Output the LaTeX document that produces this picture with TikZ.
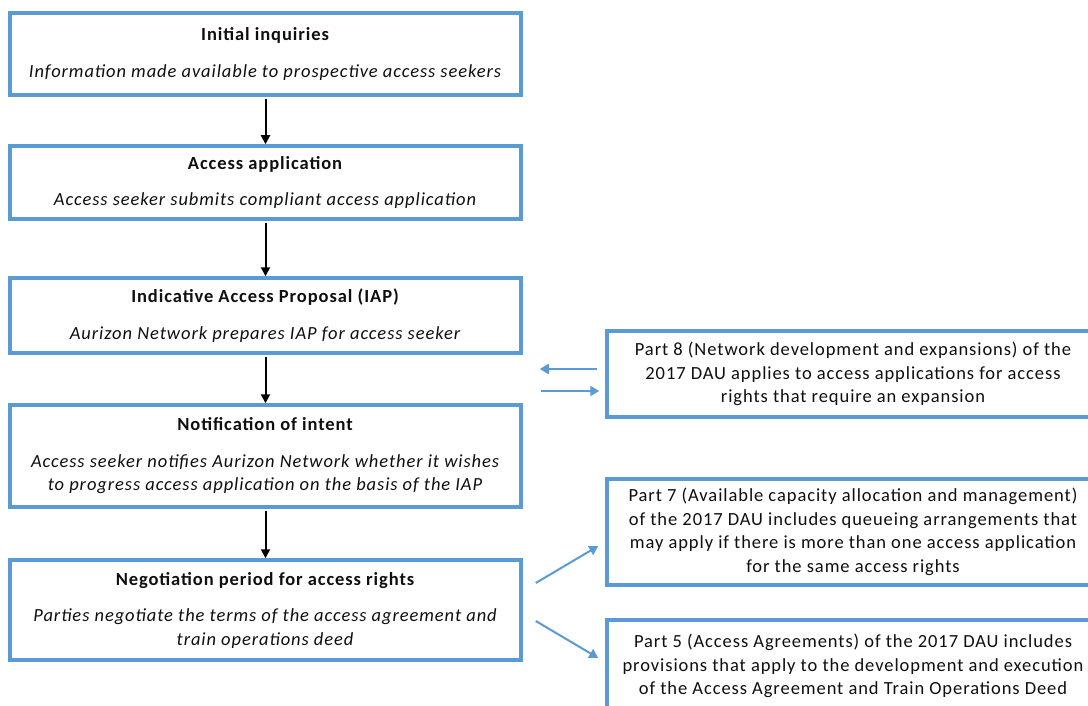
\documentclass[tikz,border=0pt]{standalone}
\usepackage{fontspec}
\setmainfont{Carlito}[LetterSpace=5]
\usepackage{xcolor}
\usepackage{tikz}
\usetikzlibrary{arrows.meta, positioning, calc}
\definecolor{boxblue}{RGB}{91, 155, 213}
\definecolor{inktext}{RGB}{15, 15, 15}
\tikzstyle{stage} = [rectangle, draw=boxblue, fill=white, line width=3.5pt, minimum width=511pt, align=center, inner sep=0pt, text=inktext, font=\fontsize{18.5}{23.5}\selectfont]
\tikzstyle{part} = [stage, minimum width=492pt]
\tikzstyle{arrow} = [-{Triangle[length=9pt, width=9pt]}, line width=2pt, black]
\tikzstyle{bluearrow} = [-{Triangle[length=9pt, width=10pt]}, line width=2pt, boxblue]

\begin{document}
\begin{tikzpicture}[x=1pt, y=-1pt]
    \useasboundingbox (0,0) rectangle (1088,706);
    \clip (0,0) rectangle (1088,706);

    % Process stages
    \node[stage, minimum height=82pt] (init) at (265.5,54) {\textbf{Initial inquiries}\\[13pt]\textit{Information made available to prospective access seekers}};
    \node[stage, minimum height=73pt] (app) at (265.5,182.5) {\textbf{Access application}\\[13pt]\textit{Access seeker submits compliant access application}};
    \node[stage, minimum height=75pt] (iap) at (265.5,315.5) {\textbf{Indicative Access Proposal\ (IAP)}\\[13pt]\textit{Aurizon Network prepares IAP for access seeker}};
    \node[stage, minimum height=102pt] (notif) at (265.5,456) {\textbf{Notification of intent}\\[13pt]\textit{Access seeker notifies Aurizon Network whether it wishes}\\\textit{to progress access application on the basis of the IAP}};
    \node[stage, minimum height=100pt] (neg) at (265.5,610) {\textbf{Negotiation period for access rights}\\[13pt]\textit{Parties negotiate the terms of the access agreement and}\\\textit{train operations deed}};

    \draw[arrow, shorten <=2pt] (init) -- (app);
    \draw[arrow, shorten <=2pt] (app) -- (iap);
    \draw[arrow, shorten <=2pt] (iap) -- (notif);
    \draw[arrow, shorten <=2pt] (notif) -- (neg);

    % Parts of the 2017 DAU
    \node[part, minimum height=86pt] (r8) at (853,374) {Part 8 (Network development and expansions) of the\\2017 DAU applies to access applications for access\\rights that require an expansion};
    \node[part, minimum height=106pt] (r7) at (853,532) {Part 7 (Available capacity allocation and management)\\of the 2017 DAU includes queueing arrangements that\\may apply if there is more than one access application\\for the same access rights};
    \node[part, minimum height=92pt] (r5) at (853,666) {Part 5 (Access Agreements) of the 2017 DAU includes\\provisions that apply to the development and execution\\of the Access Agreement and Train Operations Deed};

    \draw[bluearrow, shorten <=8pt, shorten >=17pt] ([yshift=5pt]r8.west) -- ([yshift=5pt]r8.west -| iap.east);
    \draw[bluearrow, shorten <=18pt, shorten >=6pt] ([yshift=-17pt]r8.west -| iap.east) -- ([yshift=-17pt]r8.west);
    \draw[bluearrow] ([xshift=13pt, yshift=27pt]neg.east) -- ([xshift=-7pt, yshift=-14pt]r7.west);
    \draw[bluearrow] ([xshift=13pt, yshift=-11pt]neg.east) -- ([xshift=-7pt, yshift=8pt]r5.west);
\end{tikzpicture}
\end{document}
